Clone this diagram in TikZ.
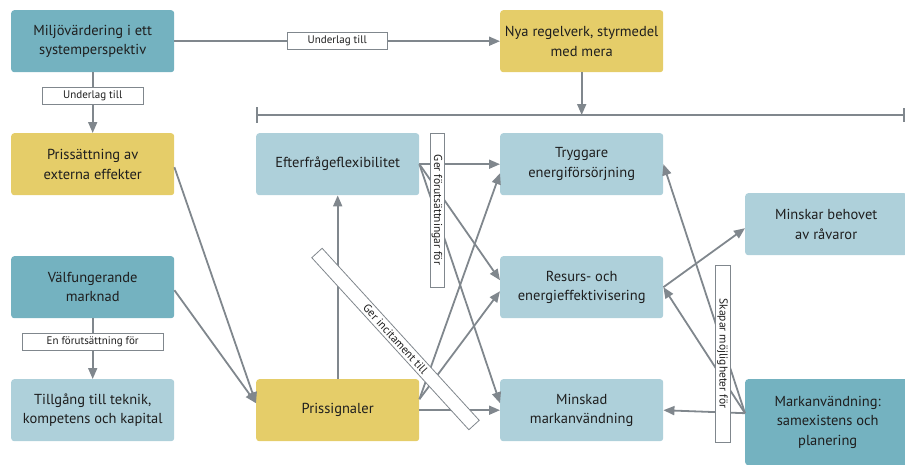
\documentclass[tikz,border=0pt]{standalone}
\usepackage{fontspec}
\setmainfont{PT Sans}
\usetikzlibrary{arrows.meta,calc}
\definecolor{tealbox}{HTML}{74B2C0}
\definecolor{lightbox}{HTML}{AED0DA}
\definecolor{yellowbox}{HTML}{E5CD69}
\definecolor{arrc}{HTML}{80878D}
\definecolor{txtc}{HTML}{1E1E1E}
\tikzset{
  box/.style={fill=#1, rounded corners=3pt, minimum width=163pt, minimum height=62pt,
    align=center, font=\fontsize{14.5}{19.5}\selectfont, text=txtc, inner sep=0pt, anchor=north west},
  arr/.style={draw=arrc, line width=1.8pt, -{Triangle[length=11pt,width=9pt]}},
  barline/.style={draw=arrc, line width=1.8pt},
  lbl/.style={draw=arrc, fill=white, line width=0.8pt, font=\fontsize{11}{12}\selectfont,
    text=txtc, inner sep=0pt, minimum height=17pt},
  rlbl/.style={lbl, font=\fontsize{11.5}{12}\selectfont},
}
\begin{document}
\begin{tikzpicture}[x=1pt,y=-1pt]
\useasboundingbox (0,0) rectangle (905,464);
% boxes
\node[box=tealbox] (mv) at (11,10) {Miljövärdering i ett\\systemperspektiv};
\node[box=yellowbox] (pe) at (11,133) {Prissättning av\\externa effekter};
\node[box=tealbox] (vm) at (11,256) {Välfungerande\\marknad};
\node[box=lightbox] (tt) at (11,379) {Tillgång till teknik,\\kompetens och kapital};
\node[box=yellowbox] (ny) at (500,10) {Nya regelverk, styrmedel\\med mera};
\node[box=lightbox] (ef) at (256,133) {Efterfrågeflexibilitet};
\node[box=yellowbox] (ps) at (256,379) {Prissignaler};
\node[box=lightbox] (tr) at (500,133) {Tryggare\\energiförsörjning};
\node[box=lightbox] (re) at (500,256) {Resurs- och\\energieffektivisering};
\node[box=lightbox] (mi) at (500,379) {Minskad\\markanvändning};
\node[box=lightbox, minimum width=162pt] (mb) at (745,193) {Minskar behovet\\av råvaror};
\node[box=tealbox, minimum width=165pt, minimum height=86pt] (ma) at (745,379) {Markanvändning:\\samexistens och\\planering};
% bar
\coordinate (bl) at (257,115);
\coordinate (br) at (904,115);
\draw[barline] (bl) -- (br);
\draw[barline] ([yshift=8pt]bl) -- ([yshift=-8pt]bl);
\draw[barline] ([yshift=7pt]br) -- ([yshift=-7pt]br);
\draw[arr] (ny) -- (ny |- bl);
% left column
\draw[arr] (mv) -- node[lbl, minimum width=100pt]{Underlag till} (ny);
\draw[arr] (mv) -- node[lbl, pos=0.38, minimum width=101pt]{Underlag till} (pe);
\draw[arr] (vm) -- node[lbl, pos=0.38, minimum width=141pt]{En förutsättning för} (tt);
\draw[arr] ([yshift=-3pt]pe.east) -- ([yshift=7pt]ps.west);
\draw[arr] ([yshift=-3pt]vm.east) -- ([yshift=7pt]ps.west);
% Prissignaler
\draw[arr] (ps) -- (ef);
\draw[arr] ([yshift=11pt]ps.east) -- ([yshift=-9pt]tr.west);
\draw[arr] ([yshift=11pt]ps.east) -- ([yshift=-4pt]re.west);
\draw[arr] (ps.east) -- (mi.west);
% Efterfrageflexibilitet
\draw[arr] (ef.east) -- (tr.west);
\draw[arr] (ef.east) -- ([yshift=7pt]re.west);
\draw[arr] (ef.east) -- ([yshift=7pt]mi.west);
% right side
\draw[arr] (re.east) -- ([yshift=-4pt]mb.west);
\draw[arr] ([yshift=9pt]ma.west) -- (mi.east);
\draw[arr] ([yshift=9pt]ma.west) -- (re.east);
\draw[arr] ([yshift=9pt]ma.west) -- (tr.east);
% labels
\node[rlbl, rotate=-90, minimum width=154pt, minimum height=14pt] (lgf) at (437,210) {Ger förutsättningar för};
\node[rlbl, rotate=-90, minimum width=177pt, minimum height=15pt] (lsm) at (722.5,353.5) {Skapar möjligheter för};
\node[rlbl, rotate=-47.6, minimum width=233pt, minimum height=14pt] (lgi) at (395.5,339) {Ger incitament till};
\end{tikzpicture}
\end{document}
